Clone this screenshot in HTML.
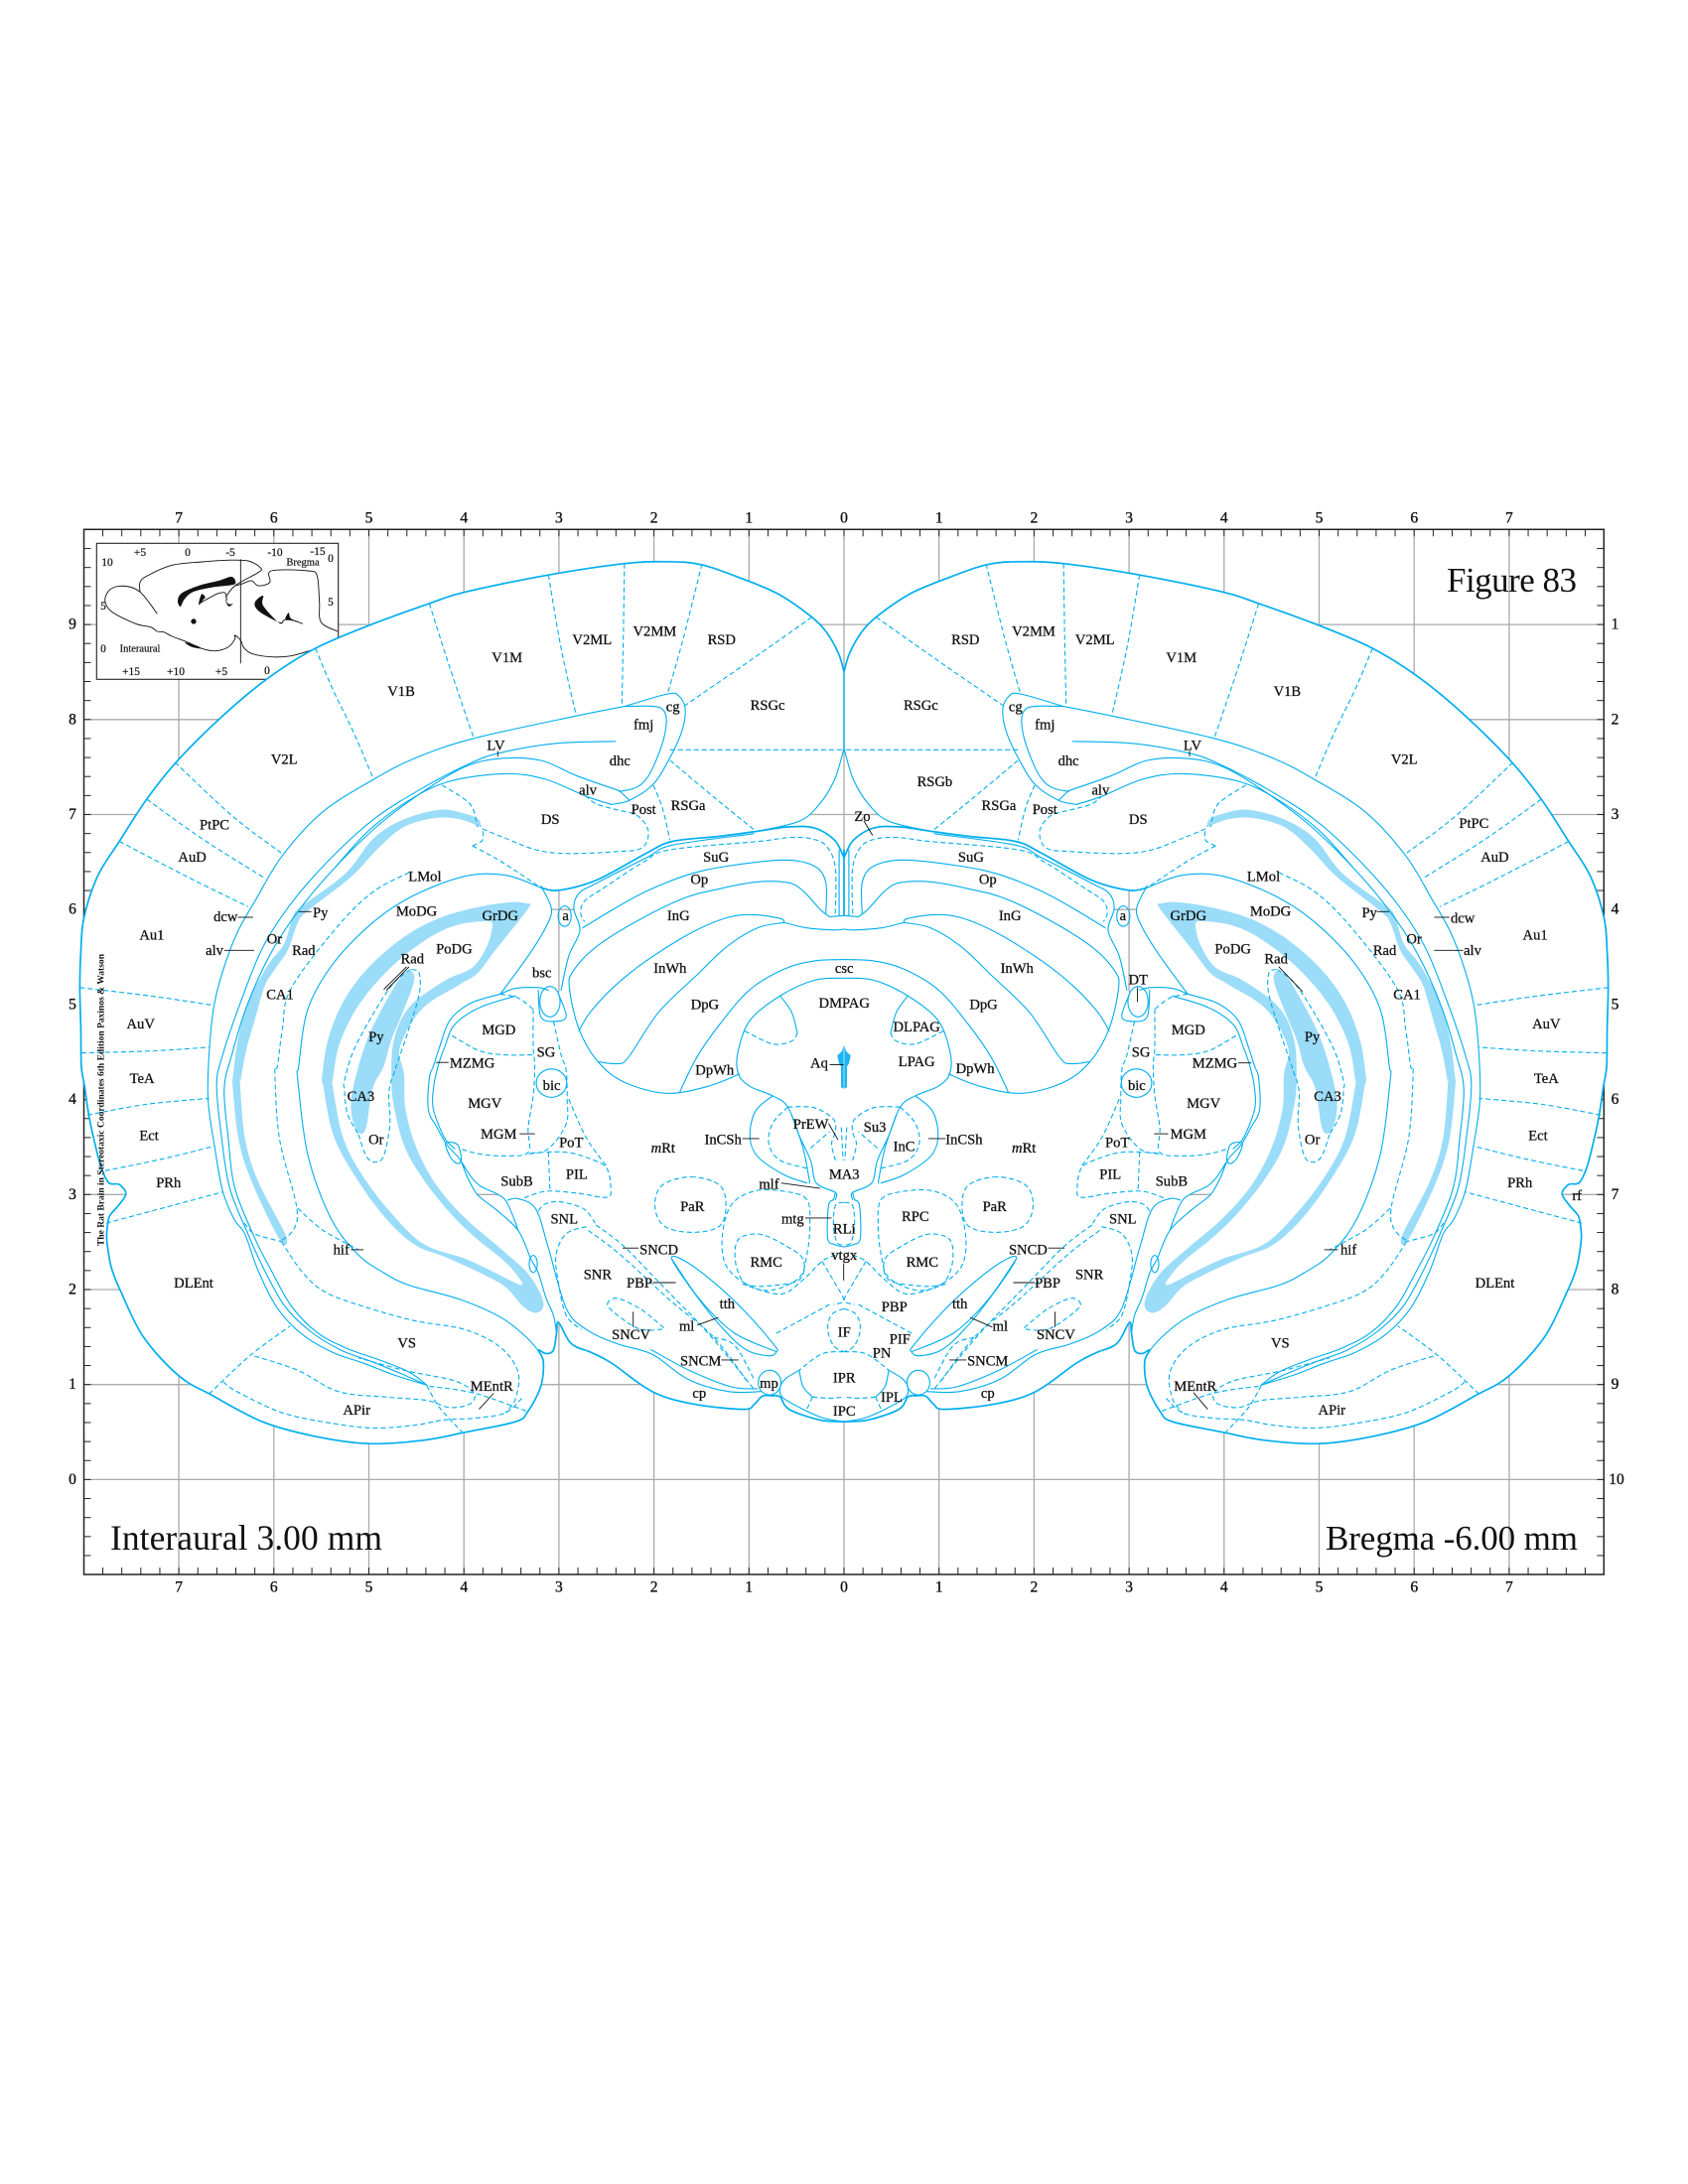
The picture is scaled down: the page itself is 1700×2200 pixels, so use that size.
<!DOCTYPE html>
<html lang="en">
<head>
<meta charset="utf-8">
<title>Rat Brain Atlas Figure 83</title>
<style>
html,body{margin:0;padding:0;background:#fff}
svg{display:block}
text{font-family:"Liberation Serif",serif;fill:#111}
.lb text{font-size:10.4px;text-anchor:middle;dominant-baseline:central;stroke:#111;stroke-width:.2px}
.solid,.dash,.thick{fill:none;stroke:#00aeef;stroke-linecap:round;stroke-linejoin:round}
.solid{stroke-width:1.1}
.thick{stroke-width:1.7}
.dash{stroke-width:1.1;stroke-dasharray:5 3;stroke-linecap:butt}
.band{fill:#9bdcf9;stroke:none;fill-rule:evenodd}
.tissue{fill:#fff;stroke:none;fill-rule:evenodd}
.leader{stroke:#111;stroke-width:1;fill:none}
.ink{fill:none;stroke:#111;stroke-width:.9}
.blob{fill:#111;stroke:none}
</style>
</head>
<body>
<svg id="atlas" xmlns="http://www.w3.org/2000/svg" width="1700" height="2200" viewBox="0 0 1700 2200">
  <g id="grid"></g>
  <g id="inset">
    <rect x="97.3" y="547.3" width="243.4" height="137" fill="#fff" stroke="#222" stroke-width="1.1"/>
    <g id="insetMarks"></g>
    <g font-size="11.5" text-anchor="middle" dominant-baseline="central" stroke="#111" stroke-width=".2">
      <text x="141" y="557">+5</text>
      <text x="189" y="557">0</text>
      <text x="232" y="557">-5</text>
      <text x="277" y="557">-10</text>
      <text x="320" y="556">-15</text>
      <text x="108" y="567">10</text>
      <text x="305" y="567" font-size="10.5">Bregma</text>
      <text x="333" y="563">0</text>
      <text x="104" y="611">5</text>
      <text x="333" y="607">5</text>
      <text x="104" y="654">0</text>
      <text x="141" y="654" font-size="10.5">Interaural</text>
      <text x="132" y="677">+15</text>
      <text x="177" y="677">+10</text>
      <text x="223" y="677">+5</text>
      <text x="269" y="676">0</text>
    </g>
  </g>
  <g id="tissue"></g>
  <use href="#tissue" transform="translate(1700,0) scale(-1,1)"/>
  <g id="lines"></g>
  <use href="#lines" transform="translate(1700,0) scale(-1,1)"/>
  <g id="leaders"></g>

  <text transform="translate(104.5,1255) rotate(-90)" font-size="9.5" font-weight="bold" textLength="294">The Rat Brain in Stereotaxic Coordinates  6th Edition  Paxinos &amp; Watson</text>
  <text x="1457" y="596" font-size="35" textLength="131">Figure 83</text>
  <text x="111" y="1561" font-size="35.5" textLength="274">Interaural 3.00 mm</text>
  <text x="1335" y="1561" font-size="35" textLength="254">Bregma -6.00 mm</text>

  <g class="lb" transform="translate(0,1) scale(1.403)">
    <text x="364" y="472">V1M</text>
    <text x="425" y="459">V2ML</text>
    <text x="470" y="453">V2MM</text>
    <text x="518" y="459">RSD</text>
    <text x="551" y="506">RSGc</text>
    <text x="288" y="496">V1B</text>
    <text x="204" y="545">V2L</text>
    <text x="483" y="507">cg</text>
    <text x="462" y="520">fmj</text>
    <text x="356" y="535">LV</text>
    <text x="445" y="546">dhc</text>
    <text x="422" y="567">alv</text>
    <text x="494" y="578">RSGa</text>
    <text x="462" y="581">Post</text>
    <text x="395" y="588">DS</text>
    <text x="154" y="592">PtPC</text>
    <text x="138" y="615">AuD</text>
    <text x="514" y="615">SuG</text>
    <text x="502" y="631">Op</text>
    <text x="305" y="629">LMol</text>
    <text x="299" y="654">MoDG</text>
    <text x="359" y="657">GrDG</text>
    <text x="162" y="658">dcw</text>
    <text x="230" y="655">Py</text>
    <text x="487" y="657">InG</text>
    <text x="406" y="657">a</text>
    <text x="197" y="674">Or</text>
    <text x="154" y="682">alv</text>
    <text x="218" y="682">Rad</text>
    <text x="326" y="681">PoDG</text>
    <text x="109" y="671">Au1</text>
    <text x="296" y="688">Rad</text>
    <text x="481" y="695">InWh</text>
    <text x="389" y="698">bsc</text>
    <text x="606" y="695">csc</text>
    <text x="201" y="714">CA1</text>
    <text x="606" y="720">DMPAG</text>
    <text x="506" y="721">DpG</text>
    <text x="101" y="735">AuV</text>
    <text x="658" y="737">DLPAG</text>
    <text x="358" y="739">MGD</text>
    <text x="270" y="744">Py</text>
    <text x="392" y="755">SG</text>
    <text x="339" y="763">MZMG</text>
    <text x="588" y="763">Aq</text>
    <text x="658" y="762">LPAG</text>
    <text x="513" y="768">DpWh</text>
    <text x="102" y="774">TeA</text>
    <text x="396" y="779">bic</text>
    <text x="348" y="792">MGV</text>
    <text x="259" y="787">CA3</text>
    <text x="582" y="807">PrEW</text>
    <text x="628" y="809">Su3</text>
    <text x="358" y="814">MGM</text>
    <text x="107" y="815">Ect</text>
    <text x="270" y="818">Or</text>
    <text x="410" y="820">PoT</text>
    <text x="519" y="818">InCSh</text>
    <text x="476" y="824"><tspan font-style="italic">m</tspan>Rt</text>
    <text x="649" y="823">InC</text>
    <text x="692" y="818">InCSh</text>
    <text x="735" y="824"><tspan font-style="italic">m</tspan>Rt</text>
    <text x="606" y="843">MA3</text>
    <text x="414" y="843">PIL</text>
    <text x="121" y="849">PRh</text>
    <text x="371" y="848">SubB</text>
    <text x="552" y="850">mlf</text>
    <text x="497" y="866">PaR</text>
    <text x="405" y="875">SNL</text>
    <text x="657" y="873">RPC</text>
    <text x="714" y="866">PaR</text>
    <text x="569" y="875">mtg</text>
    <text x="606" y="882">RLi</text>
    <text x="473" y="897">SNCD</text>
    <text x="245" y="897">hif</text>
    <text x="606" y="901">vtgx</text>
    <text x="139" y="921">DLEnt</text>
    <text x="550" y="906">RMC</text>
    <text x="662" y="906">RMC</text>
    <text x="429" y="915">SNR</text>
    <text x="459" y="921">PBP</text>
    <text x="642" y="938">PBP</text>
    <text x="522" y="936">tth</text>
    <text x="493" y="952">ml</text>
    <text x="453" y="958">SNCV</text>
    <text x="606" y="956">IF</text>
    <text x="646" y="961">PIF</text>
    <text x="633" y="971">PN</text>
    <text x="292" y="964">VS</text>
    <text x="503" y="977">SNCM</text>
    <text x="606" y="989">IPR</text>
    <text x="353" y="995">MEntR</text>
    <text x="552" y="993">mp</text>
    <text x="502" y="1000">cp</text>
    <text x="640" y="1003">IPL</text>
    <text x="606" y="1013">IPC</text>
    <text x="256" y="1012">APir</text>
    <text x="619" y="586">Zo</text>

    <text x="693" y="459">RSD</text>
    <text x="742" y="453">V2MM</text>
    <text x="786" y="459">V2ML</text>
    <text x="848" y="472">V1M</text>
    <text x="924" y="496">V1B</text>
    <text x="1008" y="545">V2L</text>
    <text x="661" y="506">RSGc</text>
    <text x="729" y="507">cg</text>
    <text x="750" y="520">fmj</text>
    <text x="856" y="535">LV</text>
    <text x="767" y="546">dhc</text>
    <text x="790" y="567">alv</text>
    <text x="671" y="561">RSGb</text>
    <text x="717" y="578">RSGa</text>
    <text x="750" y="581">Post</text>
    <text x="817" y="588">DS</text>
    <text x="1058" y="591">PtPC</text>
    <text x="1073" y="615">AuD</text>
    <text x="697" y="615">SuG</text>
    <text x="709" y="631">Op</text>
    <text x="907" y="629">LMol</text>
    <text x="912" y="654">MoDG</text>
    <text x="853" y="657">GrDG</text>
    <text x="983" y="655">Py</text>
    <text x="1050" y="659">dcw</text>
    <text x="725" y="657">InG</text>
    <text x="806" y="657">a</text>
    <text x="1102" y="671">Au1</text>
    <text x="1015" y="674">Or</text>
    <text x="1057" y="682">alv</text>
    <text x="994" y="682">Rad</text>
    <text x="885" y="681">PoDG</text>
    <text x="916" y="688">Rad</text>
    <text x="730" y="695">InWh</text>
    <text x="817" y="703">DT</text>
    <text x="1010" y="714">CA1</text>
    <text x="706" y="721">DpG</text>
    <text x="1110" y="735">AuV</text>
    <text x="853" y="739">MGD</text>
    <text x="942" y="744">Py</text>
    <text x="819" y="755">SG</text>
    <text x="872" y="763">MZMG</text>
    <text x="700" y="767">DpWh</text>
    <text x="1110" y="774">TeA</text>
    <text x="816" y="779">bic</text>
    <text x="864" y="792">MGV</text>
    <text x="953" y="787">CA3</text>
    <text x="1104" y="815">Ect</text>
    <text x="853" y="814">MGM</text>
    <text x="942" y="818">Or</text>
    <text x="802" y="820">PoT</text>
    <text x="797" y="843">PIL</text>
    <text x="841" y="848">SubB</text>
    <text x="1091" y="849">PRh</text>
    <text x="1132" y="858">rf</text>
    <text x="806" y="875">SNL</text>
    <text x="738" y="897">SNCD</text>
    <text x="968" y="897">hif</text>
    <text x="782" y="915">SNR</text>
    <text x="752" y="921">PBP</text>
    <text x="1073" y="921">DLEnt</text>
    <text x="689" y="936">tth</text>
    <text x="718" y="952">ml</text>
    <text x="758" y="958">SNCV</text>
    <text x="919" y="964">VS</text>
    <text x="709" y="977">SNCM</text>
    <text x="858" y="995">MEntR</text>
    <text x="709" y="1000">cp</text>
    <text x="956" y="1012">APir</text>
  </g>
</svg>
<script>
// Axis values (millimetres from the midline and from the interaural zero line)
const xMm = [-7,-6,-5,-4,-3,-2,-1,0,1,2,3,4,5,6,7];
const xLabels = ['7','6','5','4','3','2','1','0','1','2','3','4','5','6','7'];
const yMm = [9,8,7,6,5,4,3,2,1,0];
const yLeftLabels = ['9','8','7','6','5','4','3','2','1','0'];
const yRightLabels = ['1','2','3','4','5','6','7','8','9','10'];
const xRange = [-7.8, 7.8];
const yRange = [-0.8, 10.2];

const NS = 'http://www.w3.org/2000/svg';
const xScale = mm => 850 + 95.7 * mm;
const yScale = v => 1490.4 - 95.7 * v;
const FL = 84.5, FR = 1615.3, FT = 533.3, FB = 1586;
const grid = document.getElementById('grid');

function seg(parent, name, x1, y1, x2, y2, col, w) {
  const el = document.createElementNS(NS, 'line');
  
  
  el.setAttribute('x1', x1); el.setAttribute('y1', y1);
  el.setAttribute('x2', x2); el.setAttribute('y2', y2);
  el.setAttribute('stroke', col); el.setAttribute('stroke-width', w);
  parent.appendChild(el);
}
function tickText(name, x, y, s) {
  const el = document.createElementNS(NS, 'text');
  
  
  el.setAttribute('x', x); el.setAttribute('y', y);
  el.setAttribute('font-size', '15.5');
  el.setAttribute('text-anchor', 'middle');
  el.setAttribute('dominant-baseline', 'central');
  el.setAttribute('stroke', '#111');
  el.setAttribute('stroke-width', '.35');
  el.textContent = s;
  grid.appendChild(el);
}
xMm.forEach((m, i) => {
  seg(grid, 'grid-line-vertical', xScale(m), FT, xScale(m), FB, '#aaa', 1.3);
  tickText('x-tick-label-top', xScale(m), 522, xLabels[i]);
  tickText('x-tick-label-bottom', xScale(m), 1599, xLabels[i]);
});
yMm.forEach((v, i) => {
  seg(grid, 'grid-line-horizontal', FL, yScale(v), FR, yScale(v), '#aaa', 1.3);
  tickText('y-tick-label-left', 73, yScale(v), yLeftLabels[i]);
  tickText('y-tick-label-right', v === 0 ? 1628 : 1626.5, yScale(v), yRightLabels[i]);
});
for (let k = 0; k <= 78; k++) {
  const m = xRange[0] + k * 0.2;
  seg(grid, 'x-minor-tick-top', xScale(m), FT, xScale(m), FT + 7, '#222', 1);
  seg(grid, 'x-minor-tick-bottom', xScale(m), FB, xScale(m), FB - 7, '#222', 1);
}
for (let k = 0; k <= 55; k++) {
  const v = yRange[0] + k * 0.2;
  if (yScale(v) < FT || yScale(v) > FB) continue;
  seg(grid, 'y-minor-tick-left', FL, yScale(v), FL + 7, yScale(v), '#222', 1);
  seg(grid, 'y-minor-tick-right', FR, yScale(v), FR - 7, yScale(v), '#222', 1);
}
const fr = document.createElementNS(NS, 'rect');


fr.setAttribute('x', FL); fr.setAttribute('y', FT);
fr.setAttribute('width', FR - FL); fr.setAttribute('height', FB - FT);
fr.setAttribute('fill', 'none'); fr.setAttribute('stroke', '#222'); fr.setAttribute('stroke-width', '1.5');
grid.appendChild(fr);

// Drawing coordinates: each "zone" is a rectangular window of the plate
const Z = {
  a:[60,500,.5102,.3827],  // upper-left
  b:[60,1050,.5102,.3571], // lower-left
  c:[560,800,.3827,.4145], // centre
  d:[850,500,.5102,.3827], // upper-right
  e:[850,1050,.5102,.3571],// lower-right
  i:[80,510,1/3,1/3]       // inset
};
function P(z, arr) {
  const [ox, oy, sx, sy] = Z[z], out = [];
  for (let i = 0; i < arr.length; i += 2) out.push([ox + arr[i] * sx, oy + arr[i + 1] * sy]);
  return out;
}
function spline(p, closed) {
  const n = p.length, f = v => v.toFixed(1);
  let d = 'M' + f(p[0][0]) + ' ' + f(p[0][1]);
  const last = closed ? n : n - 1;
  for (let i = 0; i < last; i++) {
    const g = j => closed ? p[(j + n) % n] : p[Math.max(0, Math.min(n - 1, j))];
    const a = g(i - 1), b = g(i), c = g(i + 1), e = g(i + 2);
    d += 'C' + f(b[0] + (c[0] - a[0]) / 6) + ' ' + f(b[1] + (c[1] - a[1]) / 6) + ' ' +
         f(c[0] - (e[0] - b[0]) / 6) + ' ' + f(c[1] - (e[1] - b[1]) / 6) + ' ' + f(c[0]) + ' ' + f(c[1]);
  }
  return d + (closed ? 'Z' : '');
}
function ellipsePts(z, cx, cy, rx, ry) {
  const a = [];
  for (let k = 0; k < 12; k++) a.push(cx + rx * Math.cos(k * Math.PI / 6), cy + ry * Math.sin(k * Math.PI / 6));
  return P(z, a);
}
const linesG = document.getElementById('lines');
function path(parent, name, cls, d) {
  const el = document.createElementNS(NS, 'path');
  
  
  el.setAttribute('class', cls);
  el.setAttribute('d', d);
  parent.appendChild(el);
}
const S = (name, pts, closed) => path(linesG, name, 'solid', spline(pts, closed));
const T = (name, pts, closed) => path(linesG, name, 'thick', spline(pts, closed));
const D = (name, pts, closed) => path(linesG, name, 'dash', spline(pts, closed));

// Outer contour
const outerTop = P('a',[1552,470,1548,460,1538,415,1515,360,1485,318,1420,258,1350,218,1268,180,1200,172,1115,177,965,207,800,252,730,282,620,335,505,400,410,480,320,580,230,700,172,797,118,908,75,1000,48,1110,42,1200,40,1295,42,1400,43,1500]);
const outerLow = P('b',[49,121,59,215,75,317,85,364,98,397,118,401,131,427,118,457,101,485,96,504,93,551,98,607,104,644,120,700,165,830,235,940,300,995,400,1070,500,1110,610,1132,720,1122,800,1100,900,1070,925,1040,950,970,955,900,945,868,960,878,975,868,981,820,985,790,1010,850,1050,875,1090,905,1170,985,1250,1020,1350,1035,1372,1020,1387,998,1405,997,1422,1000,1440,1035,1500,1065,1548,1070,1552,1070]);
const holeA = P('a',[950,1030,985,1037,1020,1042,1015,1085,1027,1143,1005,1210,990,1300,960,1298,945,1293,900,1293,870,1310,930,1200,965,1120,970,1080,960,1045]);
const holeB = P('b',[795,340,805,380,825,430,860,470,905,530,895,490,880,445,860,425,830,405,810,375]);
const holeD = P('a',[1552,668,1548,668,1530,745,1500,810,1460,855,1400,875,1440,870,1490,873,1530,905,1548,950,1552,955]);
path(document.getElementById('tissue'), 'tissue-fill', 'tissue',
  spline(outerTop.concat(outerLow), false) + 'Z' + spline(holeA, false) + 'Z' + spline(holeB, false) + 'Z' + spline(holeD, false) + 'Z');

// Blue cell layers
path(linesG, 'ca1-pyramidal-band', 'band', spline(
  P('a',[833,872,827,850,800,835,750,825,680,850,620,900,564,993,477,1080,461,1106,444,1176,419,1219,398,1263,372,1330,352,1430,342,1530])
  .concat(P('b',[341,112,353,271,379,392,434,555,447,546,392,392,366,271,356,112]))
  .concat(P('a',[357,1540,368,1460,385,1380,405,1289,425,1245,451,1193,470,1123,490,1091,575,1002,630,925,680,870,740,847,790,850,833,872])), false) + 'Z');
path(linesG, 'dentate-granule-band', 'band',
  spline(P('a',[925,1072,895,1068,830,1080,750,1110,680,1160,610,1240,560,1330,530,1430,518,1530])
  .concat(P('b',[520,120,540,260,580,370,640,490,700,570,760,605,830,650,880,690,915,745,940,763,955,745,948,705,920,645,865,575,800,495,745,405,705,300,683,190,680,90]))
  .concat(P('a',[672,1450,715,1350,790,1285,825,1255,860,1195,925,1085,925,1072])), false) + 'Z' +
  spline(P('a',[855,1130,845,1118,780,1130,720,1170,650,1245,590,1340,553,1440,540,1530])
  .concat(P('b',[540,130,560,270,600,380,660,490,720,570,800,610,860,650,905,682,912,675,880,620,820,550,770,480,715,380,680,290,660,180,655,100]))
  .concat(P('a',[660,1430,690,1345,760,1275,815,1240,845,1180,855,1130])), false) + 'Z');
path(linesG, 'ca3-pyramidal-band', 'band', spline(
  P('a',[695,1248,675,1262,640,1340,610,1420,588,1510])
  .concat(P('b',[575,170,582,235,595,258,606,235,618,130]))
  .concat(P('a',[640,1500,655,1430,680,1350,700,1275,695,1248])), false) + 'Z');

// Outer contour stroke
T('brain-outer-contour', outerTop.slice(1).concat(outerLow.slice(0,-1)));

// Cortical area borders
D('v2l-v1b-border', P('a',[505,400,540,510,580,620,620,745]));
D('v1b-v1m-border', P('a',[730,282,770,450,818,638]));
D('v1m-v2ml-border', P('a',[965,207,990,400,1020,578]));
D('v2ml-v2mm-border', P('a',[1115,177,1113,350,1110,553]));
D('v2mm-rsd-border', P('a',[1268,178,1230,380,1200,520]));
D('rsd-rsgc-border', P('a',[1485,318,1360,435,1235,550]));
D('v2l-ptpc-border', P('a',[228,700,340,840,437,938]));
D('ptpc-aud-border', P('a',[172,797,280,900,405,1005]));
D('aud-au1-border', P('a',[118,908,250,1000,372,1080]));
D('au1-auv-border', P('a',[40,1293,180,1315,305,1340]));
D('auv-tea-border', P('a',[43,1465,180,1460,295,1450]));
D('tea-ect-border', P('b',[55,205,170,175,295,158]));
D('ect-prh-border', P('b',[90,362,200,330,305,293]));
D('prh-dlent-border', P('b',[92,510,210,465,322,422]));
D('dlent-apir-border', P('b',[295,992,375,885,455,800]));
D('rsgc-rsgb-border', P('a',[1205,667,1380,667,1548,667]));
D('rsga-rsgb-border', P('a',[1205,695,1290,790,1375,882]));
D('post-rsga-border', P('a',[1172,760,1190,820,1205,905]));
S('retrosplenial-midline', P('a',[1548,460,1548,667]));
S('retrosplenial-lower-contour', P('a',[1548,665,1530,745,1500,810,1460,855,1375,882]));

// White matter arcs
S('cortex-inner-border', P('a',[1115,553,1020,578,815,638,700,690,620,745,520,830,440,945,388,1060,350,1150,322,1250,305,1340,296,1450]).concat(P('b',[293,159,306,294,322,420,345,500,366,541,392,644,430,750,480,825,540,875,600,905,660,938,725,967])));
S('corpus-callosum-line', P('a',[1097,645,980,650,870,675,810,703,720,765,620,850,530,960,455,1075,400,1190,355,1340,322,1470]).concat(P('b',[310,121,320,271,336,411,372,541,405,644,445,745,495,815,555,868,615,900,675,935,725,967])));
S('dorsal-hippocampal-commissure-line', P('a',[1105,775,1020,735,950,695,870,690,800,712,720,775,630,865,545,975,475,1085,418,1200,370,1340,340,1470]).concat(P('b',[325,131,333,271,346,411,385,551,418,644,458,745,510,820,570,865,630,895,690,930,725,967])));
S('alveus-line', P('a',[1090,811,1040,790,960,745,880,730,770,750,690,800,610,880,545,975]));
S('cingulum-contour', P('a',[1115,553,1200,520,1222,525,1235,560,1228,620,1200,700,1170,760,1125,800,1090,811]));
S('forceps-major-contour', P('a',[1115,553,1165,552,1190,560,1198,590,1190,650,1165,730,1140,765,1105,777]));
S('alv-short-line', P('a',[1105,775,1125,800]));

// Dorsal subiculum
D('ds-lateral-border', P('a',[755,760,810,810,825,870]));
D('ds-lower-border', P('a',[835,875,880,900,940,930,1000,940,1100,935,1150,925,1162,880,1140,840,1100,825,1060,810,1040,790]));
D('ds-hook', P('a',[815,920,835,905,835,875]));
D('lmol-upper-border', P('a',[815,920,870,960,950,1030]));

// Hippocampus
S('modg-outer-contour', P('a',[950,1030,880,997,800,1000,700,1050,620,1120,540,1230,490,1350,472,1500]).concat(P('b',[470,103,490,317,535,495,588,597,640,650,690,685,790,725,870,775,920,830,948,875])));
S('hippocampal-medial-contour', P('a',[950,1025,970,1080,965,1120,930,1200,870,1310]));
D('ca1-radiatum-dash', P('a',[690,990,620,1040,550,1130,457,1295,440,1400,430,1500]).concat(P('b',[425,84,434,271,467,457,464,523,438,560])));
D('ca1-tip-dash', P('b',[365,510,385,540,438,562]));
D('hif-dash', P('b',[470,468,520,530,590,585]));
D('vs-dash', P('b',[438,562,480,650,525,705,600,745,700,785,800,810,870,860,905,930,900,1005,880,1045]));
D('ca3-right-dash', P('a',[695,1245,710,1255,710,1310,690,1400,662,1510]).concat(P('b',[650,140,652,230,640,320,622,338,605,320,590,260])));
D('ca3-left-dash', P('a',[693,1245,660,1280,620,1360,580,1460,562,1540]).concat(P('b',[562,130,568,200,590,260])));

// Entorhinal / piriform
D('apir-upper-border', P('b',[385,885,470,925,550,985,640,1000,725,1010,770,1030,810,1020,818,990,780,955,680,925,590,890]));
D('apir-lower-border', P('b',[323,958,350,985,440,1045,540,1075,620,1088,700,1080,760,1065,820,1060,880,1045,915,1000]));
D('mentr-cross-border', P('b',[725,968,750,1030,795,1100]));
D('mentr-lateral-border', P('b',[730,970,820,990,925,1042]));

// Geniculate / thalamic
S('mg-outer-contour', P('a',[870,1310,810,1335,770,1380,750,1450,738,1500]).concat(P('b',[730,100,728,190,745,240,765,290,790,330,805,380,825,430,860,470,905,530,930,610,945,650,960,720,975,770,981,820])));
S('mg-inner-contour', P('a',[900,1315,830,1345,780,1390,760,1450,747,1500]).concat(P('b',[738,130,738,190,760,270,780,300])));
S('sg-top-contour', P('a',[870,1310,900,1295,945,1293,965,1300]));
S('dt-oval', ellipsePts('a',968,1330,20,40), true);
S('a-nucleus-oval', ellipsePts('a',997,1105,13,27), true);
S('bic-oval', ellipsePts('b',971,115,30,40), true);
S('mg-small-oval', P('b',[762,285,785,288,793,328,786,342,772,325]), true);
S('hippocampal-small-oval', ellipsePts('b',935,625,8,24), true);
S('fissure-medial-contour', P('b',[795,340,810,375,830,405,860,425,880,445,895,490,905,530]));
S('dt-lower-loop', P('a',[985,1310,1000,1370,975,1382,950,1370,945,1300]));
D('mgv-dash', P('a',[935,1350,935,1450,938,1500]).concat(P('b',[935,150,925,240,925,310,880,320,830,315,790,300])));
D('sg-lateral-dash', P('a',[975,1382,990,1470,1000,1510]).concat(P('b',[1002,160,1000,230,965,300,925,315])));
D('mgd-boundary', P('a',[775,1420,830,1460,880,1470,935,1470]));
D('mgd-top-dash', P('a',[870,1310,905,1320,935,1350]));
D('pot-pil-dash', P('b',[930,312,1000,310,1050,330,1080,355,1088,410,1080,437,1020,425,960,420,915,440]));
D('pot-lateral-dash', P('b',[1005,160,1040,270,1080,350]));
D('subb-dash', P('b',[965,310,968,420]));
D('snl-dash', P('b',[945,475,960,455,990,450,1035,470,1057,510]));
D('snr-lateral-dash', P('b',[1040,520,1000,540,980,600,985,680,1000,770,1030,810]));

// Substantia nigra / cp
S('sn-lateral-contour', P('b',[885,445,905,441,940,470,965,580,1000,750,1040,810,1100,850,1170,880,1240,950,1320,985,1385,985]));

// Superior colliculus
T('colliculus-outer-contour', P('a',[1548,950,1530,905,1490,873,1440,870,1375,882,1300,895,1210,908,1160,938,1060,1010,985,1037,950,1030]));
S('colliculus-second-line', P('a',[1370,888,1210,918,1160,950,1060,1018,1025,1045,1015,1085,1027,1143,1005,1210,990,1300]));
D('sug-dash', P('c',[735,290,735,180,715,130,680,110,620,105,530,115,300,135,230,165,130,225,75,260,65,290,75,310]));
S('sug-op-line', P('c',[710,290,710,215,680,175,600,160,450,175,350,195,240,235,150,280,70,325]));
S('midline-right-stripe', P('c',[745,135,745,295]));
S('midline-stripe', P('c',[757,135,757,295]));
S('op-ing-and-dpwh-contour', P('c',[720,298,695,280,650,235,610,215,530,213,430,230,330,255,200,315,100,375,45,430,35,470,60,570,110,650,180,700,290,727,400,710,483,680]));
S('ing-inwh-line', P('c',[600,310,590,302,520,293,450,300,350,340,230,410,150,470,90,530,60,575]));
S('inwh-dpg-line', P('c',[600,312,530,325,450,370,370,440,270,530,190,640,160,655,110,650]));
S('tectal-bridge', P('c',[600,312,660,325,730,330,757,328]));
S('midline-base-arc', P('c',[720,298,757,295]));

// Periaqueductal grey
S('csc-upper-line', P('c',[757,402,680,405,600,425,510,475,430,560,370,640,325,725]));
S('pag-contour', P('c',[757,447,680,452,590,490,510,550,478,630,480,680,510,710,570,733,610,760,640,830,670,890,685,945,735,968,735,985]));
S('dlpag-solid', P('c',[590,490,620,530,635,580]));
D('dlpag-dash', P('c',[635,580,620,600,570,607,495,575]));
S('incsh-contour', P('c',[570,733,525,770,510,830,530,880,600,925,660,945]));
D('inc-dash', P('c',[610,760,570,800,560,850,590,890,665,910]));
D('prew-dash', P('c',[610,760,680,762,730,790,735,820,725,850,735,890]));
D('prew-lower-dash', P('c',[670,860,720,820]));
D('ew-midline-dash', P('c',[765,810,760,890]));
S('ma3-inner-line', P('c',[620,780,650,860,668,945]));

// Tegmentum
D('par-oval', P('c',[355,930,430,950,447,1000,430,1050,360,1065,285,1050,260,1000,280,950]), true);
D('rpc-contour', P('c',[660,985,600,965,520,965,460,1000,437,1080,450,1150,510,1195,570,1205,640,1175,660,1120,668,1050]), true);
D('rmc-contour', P('c',[490,1075,540,1070,600,1095,650,1130,640,1180,560,1195,500,1190,475,1150,472,1100]), true);
S('rli-outer', P('c',[735,968,730,985,717,1000,715,1080,735,1095,757,1100]));
D('rli-inner', P('c',[757,992,735,1000,730,1050,740,1090,757,1095]));
D('pbp-upper-dash', P('c',[735,1120,700,1135,650,1180,590,1215,490,1190]));
D('pbp-lower-dash', P('c',[720,1240,650,1275,580,1310]));
D('vtg-midline-dash', P('c',[700,1135,735,1190,757,1230,730,1240]));
D('if-contour', P('c',[757,1250,725,1265,715,1300,730,1340,757,1355]));
D('ipr-upper', P('c',[757,1355,700,1360,640,1400]));
S('ipr-left', P('c',[640,1400,650,1440,675,1465]));
D('ipr-lower', P('c',[675,1465,720,1468,757,1465]));
S('ip-left-contour', P('c',[640,1400,605,1420,590,1440,595,1465,640,1490,700,1515,757,1525]));
D('ipc-left', P('c',[675,1465,660,1495]));
S('mp-oval', ellipsePts('c',562,1430,30,30), true);
S('cp-upper-line', P('c',[530,1445,460,1440,350,1400,250,1350]));
S('tth-ml-oval', P('c',[305,1130,340,1135,420,1190,500,1260,575,1340,580,1355,560,1365,500,1350,440,1300,370,1220]), true);
S('tth-ml-divider', P('c',[305,1130,380,1230,470,1310,580,1355]));
D('sn-dash-upper', P('c',[105,1047,180,1100,280,1195,400,1310,520,1445]));
D('sn-dash-lower', P('c',[85,1060,170,1120,300,1230,415,1320,505,1430]));
D('sncm-dash', P('c',[415,1320,470,1340,520,1420]));
D('sncv-contour', P('c',[135,1240,160,1225,220,1250,275,1290,280,1300,220,1300,160,1265]), true);
// Aqueduct
path(linesG, 'aqueduct', 'band', 'M' + P('c',[757,610,752,625,740,635,745,655,750,662,750,712,757,716]).map(p => p[0].toFixed(1) + ' ' + p[1].toFixed(1)).join('L') + 'Z');
linesG.lastChild.style.fill = '#1cb5f0';

// Leader lines
const leadersG = document.getElementById('leaders');
function L(name, z, x1, y1, x2, y2) {
  const p = P(z, [x1, y1, x2, y2]);
  seg(leadersG, name, p[0][0].toFixed(1), p[0][1].toFixed(1), p[1][0].toFixed(1), p[1][1].toFixed(1), '#111', 0.9);
}
L('leader-lv-l','a',865,670,865,685);
L('leader-dcw-l','a',352,1108,382,1108);
L('leader-py-l','a',472,1093,497,1093);
L('leader-alv-l','a',325,1195,384,1195);
L('leader-rad-l','a',690,1238,645,1300);
L('leader-rad-l2','a',685,1238,640,1298);
L('leader-mzmg-l','a',743,1490,768,1490);
L('leader-aq','a',1520,1496,1548,1496);
L('leader-incsh-l','c',490,837,535,837);
L('leader-prew','c',717,800,742,840);
L('leader-mlf','c',592,945,695,958);
L('leader-mtg','c',655,1030,725,1030);
L('leader-sncd-l','c',175,1103,217,1103);
L('leader-pbp-l','c',255,1187,315,1187);
L('leader-sncv-l','c',203,1258,203,1295);
L('leader-ml-l','c',372,1290,427,1272);
L('leader-sncm-l','c',435,1375,480,1375);
L('leader-vtgx','c',757,1140,757,1182);
L('leader-incsh-r','c',980,837,1025,837);
L('leader-sncd-r','c',1295,1103,1338,1103);
L('leader-pbp-r','c',1203,1187,1260,1187);
L('leader-sncv-r','c',1313,1258,1313,1295);
L('leader-ml-r','c',1090,1272,1148,1295);
L('leader-sncm-r','c',1035,1375,1080,1375);
L('leader-zo','c',810,65,833,100);
L('leader-dt','c',1530,470,1530,505);
L('leader-hif-l','b',575,585,600,585);
L('leader-mgm-l','b',908,258,938,258);
L('leader-mentr-l','b',857,990,828,1035);
L('leader-mzmg-r','e',778,58,804,58);
L('leader-mgm-r','e',612,258,640,258);
L('leader-hif-r','e',948,585,975,585);
L('leader-mentr-r','e',690,988,718,1035);
L('leader-lv-r','d',682,670,682,685);
L('leader-py-r','d',1052,1093,1076,1093);
L('leader-dcw-r','d',1165,1108,1195,1108);
L('leader-alv-r','d',1165,1195,1222,1195);
L('leader-rad-r','d',858,1238,905,1303);

// Sagittal inset
const insetG = document.getElementById('insetMarks');
path(insetG,'inset-dorsal-outline','ink',spline(P('i',[183,258,183,230,205,210,280,178,370,168,445,163,510,165,548,187,540,200,470,240,442,275])));
path(insetG,'inset-ventral-outline','ink',spline(P('i',[235,325,210,290,182,258,150,243,110,243,85,260,78,290,100,320,170,355,215,365,235,378,255,380,280,393,325,410,370,430,410,437,450,425,470,400,468,390,478,395,490,410,495,425,520,445,580,455,640,452,700,435])));
path(insetG,'inset-cerebellum-outline','ink',spline(P('i',[780,378,730,350,725,290,718,210,690,195,580,195,575,230,540,240,520,225,490,235,470,240])));
path(insetG,'inset-inner-curve','ink',spline(P('i',[360,295,415,265,440,262,445,285])));
path(insetG,'inset-section-line','ink','M' + P('i',[487,160])[0].join(' ') + 'L' + P('i',[487,475])[0].join(' '));
path(insetG,'inset-hippocampus','blob',spline(P('i',[297,285,310,262,360,240,420,225,460,213,472,230,460,238,400,245,345,258,318,280,305,303]),true));
path(insetG,'inset-small-blob','blob',spline(P('i',[362,298,362,285,370,265,380,275,374,282]),true));
path(insetG,'inset-dot','blob',spline(ellipsePts('i',345,348,8,8),true));
path(insetG,'inset-blob-c','blob',spline(P('i',[440,280,450,295,464,295,450,302]),true));
path(insetG,'inset-ventral-blob','blob',spline(P('i',[318,412,345,418,370,430,340,425]),true));
path(insetG,'inset-brainstem-blob','blob',spline(P('i',[530,290,555,270,555,300,600,350,615,352,590,345,540,315]),true));
path(insetG,'inset-brainstem-tail','blob',spline(P('i',[622,342,632,322,640,340,675,355,640,345]),true));
path(insetG,'inset-brainstem-line','ink',spline(P('i',[612,350,630,340,675,355])));
</script>
</body>
</html>
